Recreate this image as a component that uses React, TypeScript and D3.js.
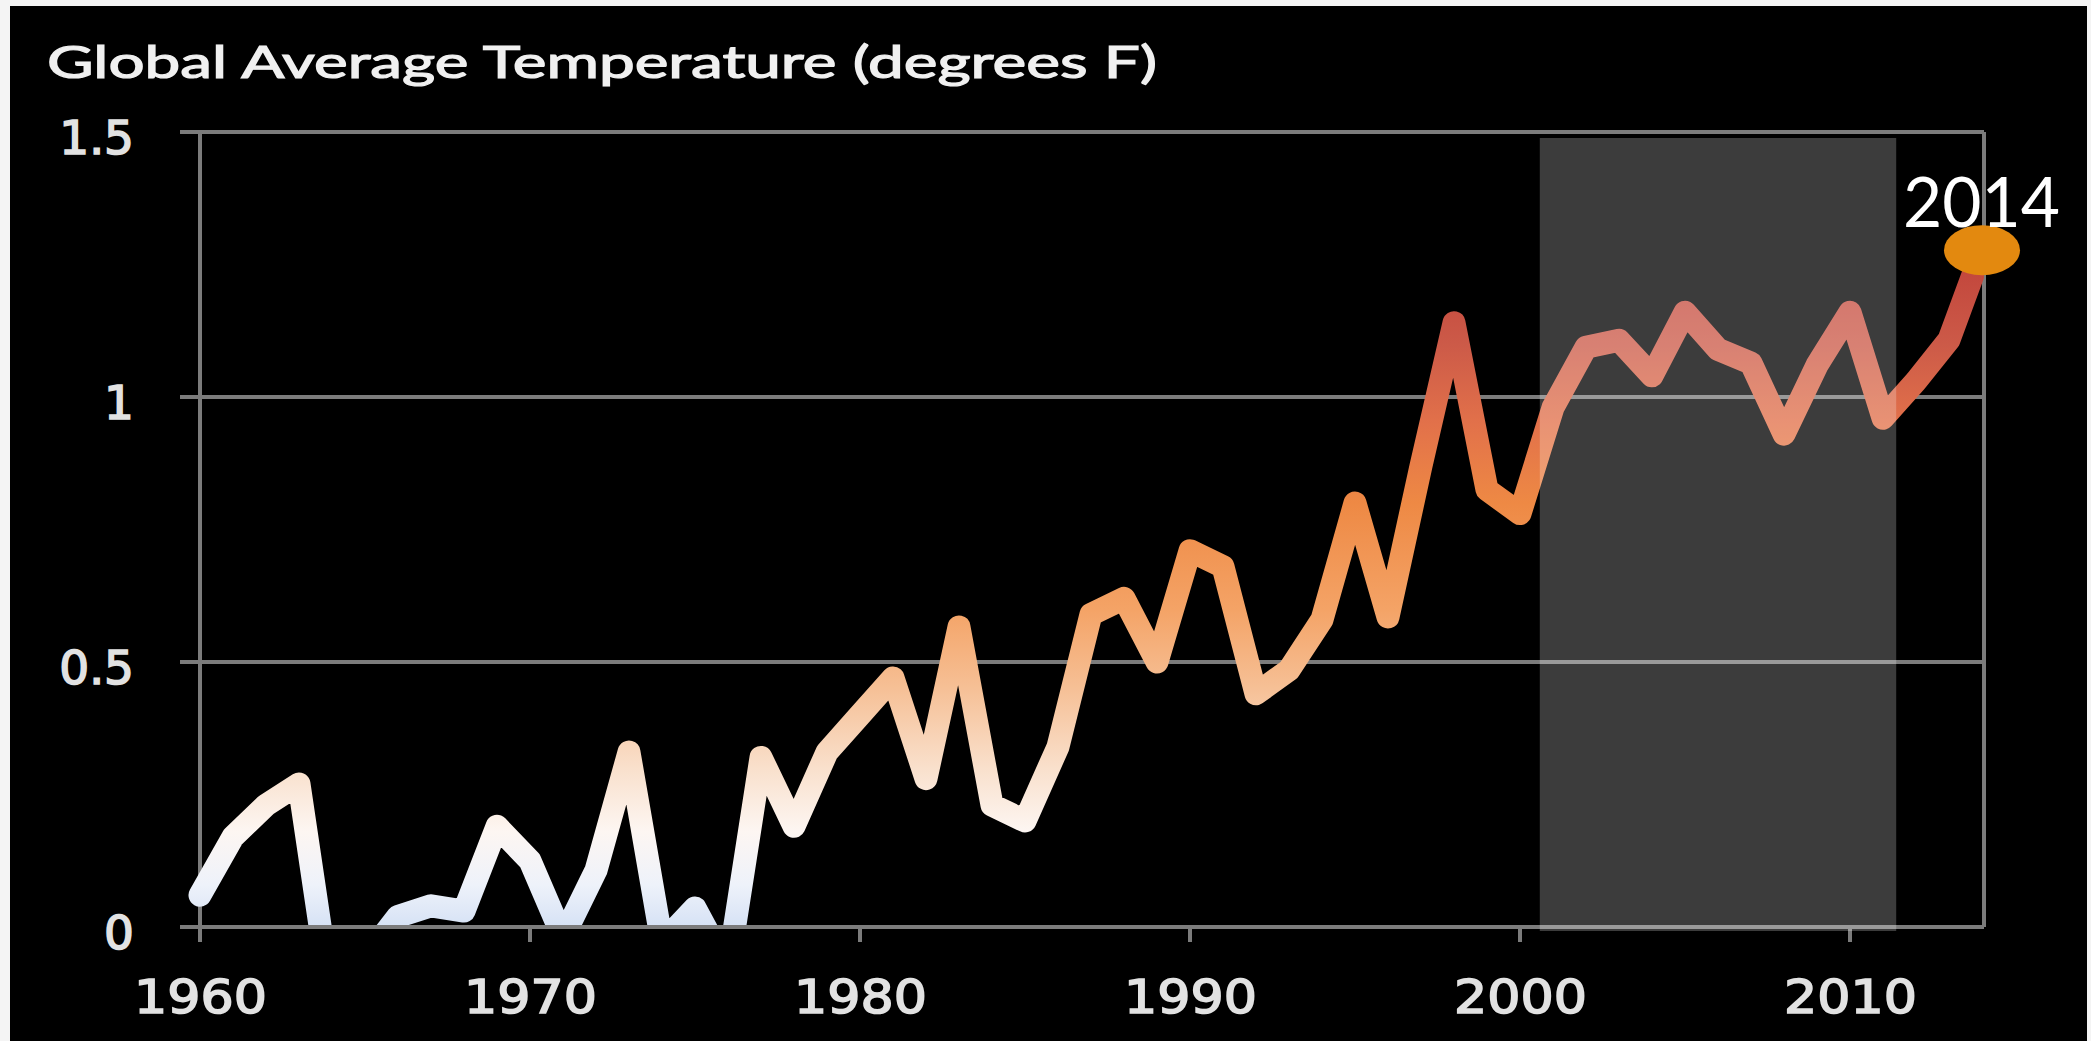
import React from "react";
import * as d3 from "d3";

// ---- data ----
const years = [
  1960, 1961, 1962, 1963, 1964, 1965, 1966, 1967, 1968, 1969,
  1970, 1971, 1972, 1973, 1974, 1975, 1976, 1977, 1978, 1979,
  1980, 1981, 1982, 1983, 1984, 1985, 1986, 1987, 1988, 1989,
  1990, 1991, 1992, 1993, 1994, 1995, 1996, 1997, 1998, 1999,
  2000, 2001, 2002, 2003, 2004, 2005, 2006, 2007, 2008, 2009,
  2010, 2011, 2012, 2013, 2014,
];
const anomalies = [
  0.06, 0.17, 0.23, 0.27, -0.15, -0.06, 0.02, 0.04, 0.03, 0.19,
  0.125, -0.02, 0.107, 0.33, -0.03, 0.036, -0.08, 0.32, 0.19, 0.33,
  0.4, 0.47, 0.28, 0.566, 0.23, 0.2, 0.34, 0.59, 0.62, 0.5,
  0.71, 0.68, 0.44, 0.485, 0.58, 0.8, 0.585, 0.87, 1.14, 0.825,
  0.78, 0.98, 1.094, 1.107, 1.04, 1.16, 1.09, 1.064, 0.93, 1.06,
  1.16, 0.96, 1.03, 1.108, 1.277,
];
const xTicks = [1960, 1970, 1980, 1990, 2000, 2010];
const yTicks = [0, 0.5, 1, 1.5];
const yTickLabels = ["0", "0.5", "1", "1.5"];
const shadeYears = [2000.6, 2011.4];
const highlightYear = 2014;
const highlightLabel = "2014";
const title = "Global Average Temperature (degrees F)";
const gradientStops: [number, string][] = [
  [0, "#d6e2f5"],
  [0.08, "#eef2fa"],
  [0.18, "#fdf6f2"],
  [0.3, "#f9e0cc"],
  [0.45, "#f6c096"],
  [0.6, "#f4a366"],
  [0.8, "#ee8944"],
  [0.95, "#e2714a"],
  [1.1, "#cc5a48"],
  [1.3, "#bf3f38"],
];

export default function App() {
  const W = 2091;
  const H = 1041;
  const x = d3.scaleLinear().domain([1960, 2014]).range([200, 1982]);
  const y = d3.scaleLinear().domain([0, 1.5]).range([927, 132]);
  const plotRight = 1984;

  const data = years.map((yr, i) => ({ yr, v: anomalies[i] }));
  const line = d3
    .line<{ yr: number; v: number }>()
    .x((d) => x(d.yr))
    .y((d) => y(d.v));
  const path = line(data) || "";

  const gridColor = "#7c7c7c";
  const labelColor = "#e2e2e2";
  const last = data[data.length - 1];
  const hx = x(highlightYear);
  const hy = y(last.v);

  return (
    <svg
      width={W}
      height={H}
      style={{ position: "absolute", left: 0, top: 0, display: "block" }}
    >
      <defs>
        <linearGradient
          id="tempGrad"
          gradientUnits="userSpaceOnUse"
          x1={0}
          x2={0}
          y1={y(0)}
          y2={y(1.3)}
        >
          {gradientStops.map(([v, c]) => (
            <stop key={v} offset={v / 1.3} stopColor={c} />
          ))}
        </linearGradient>
        <clipPath id="plotClip">
          <rect x={x(1960) - 30} y={y(1.5)} width={plotRight - x(1960) + 30} height={y(0) - y(1.5)} />
        </clipPath>
      </defs>
      <rect x={0} y={0} width={W} height={H} fill="#f4f4f4" />
      <rect x={10} y={6} width={2077} height={H - 6} fill="#000" />

      {/* title */}
      <text
        x={47}
        y={78}
        fill="#f0f0f0"
        stroke="#f0f0f0"
        strokeWidth={1.2}
        fontFamily="Lato, 'Open Sans', sans-serif"
        fontSize={45}
        textLength={1110}
        lengthAdjust="spacingAndGlyphs"
      >
        {title}
      </text>

      {/* gridlines */}
      {yTicks.map((t) => (
        <line
          key={"g" + t}
          x1={180}
          x2={plotRight}
          y1={y(t)}
          y2={y(t)}
          stroke={gridColor}
          strokeWidth={4}
        />
      ))}
      {/* right border */}
      <line x1={plotRight} x2={plotRight} y1={y(1.5)} y2={y(0)} stroke={gridColor} strokeWidth={4} />
      {/* y axis */}
      <line x1={x(1960)} x2={x(1960)} y1={y(1.5)} y2={y(0) + 15} stroke={gridColor} strokeWidth={4} />
      {/* x ticks */}
      {xTicks.map((t) => (
        <line
          key={"t" + t}
          x1={x(t)}
          x2={x(t)}
          y1={y(0)}
          y2={y(0) + 15}
          stroke={gridColor}
          strokeWidth={4}
        />
      ))}

      {/* data line */}
      <g clipPath="url(#plotClip)">
        <path
          d={path}
          fill="none"
          stroke="url(#tempGrad)"
          strokeWidth={23}
          strokeLinejoin="round"
          strokeLinecap="round"
        />
      </g>
      {/* axis on top of clipped line */}
      <line x1={180} x2={plotRight} y1={y(0)} y2={y(0)} stroke={gridColor} strokeWidth={4} />

      {/* shaded period overlay */}
      <rect
        x={x(shadeYears[0])}
        y={y(1.5) + 6}
        width={x(shadeYears[1]) - x(shadeYears[0])}
        height={y(0) + 4 - (y(1.5) + 6)}
        fill="#ffffff"
        fillOpacity={0.235}
      />

      {/* y tick labels */}
      {yTicks.map((t, i) => (
        <text
          key={"yl" + t}
          x={134}
          y={y(t) + 22}
          textAnchor="end"
          fill={labelColor}
          stroke={labelColor}
          strokeWidth={1.6}
          fontFamily="'DejaVu Sans', Verdana, sans-serif"
          fontSize={47}
        >
          {yTickLabels[i]}
        </text>
      ))}
      {/* x tick labels */}
      {xTicks.map((t) => (
        <text
          key={"xl" + t}
          x={x(t) - 66}
          y={1013}
          fill={labelColor}
          stroke={labelColor}
          strokeWidth={1.6}
          fontFamily="'DejaVu Sans', Verdana, sans-serif"
          fontSize={47}
          textLength={133}
          lengthAdjust="spacingAndGlyphs"
        >
          {t}
        </text>
      ))}

      {/* highlight point */}
      <ellipse cx={hx} cy={hy} rx={38} ry={25} fill="#e3890f" />
      <text
        x={hx - 79}
        y={227}
        fill="#ffffff"
        fontFamily="Lato, 'Open Sans', sans-serif"
        fontSize={70}
        textLength={157}
        lengthAdjust="spacingAndGlyphs"
      >
        {highlightLabel}
      </text>
    </svg>
  );
}
